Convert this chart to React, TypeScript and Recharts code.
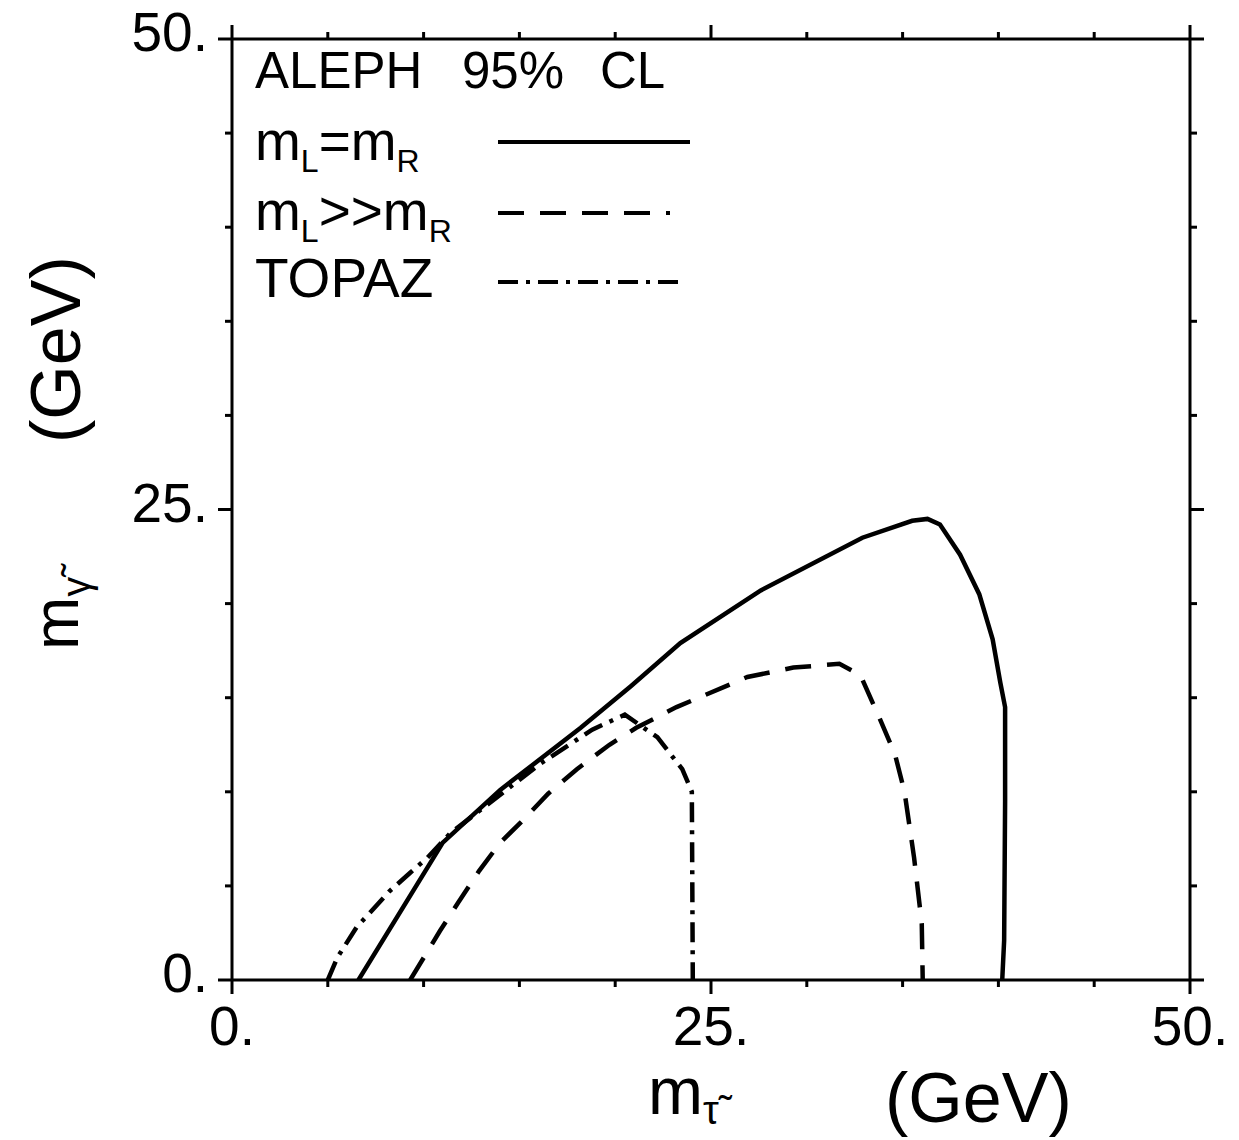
import { LineChart, Line, XAxis, YAxis, Legend } from "recharts";

const FONT = "'Liberation Sans', Arial, Helvetica, sans-serif";

// ALEPH 95% CL exclusion, m_L = m_R
const equalMassCurve = [
  { x: 6.6, y: 0 },
  { x: 11.0, y: 7.3 },
  { x: 14.0, y: 10.1 },
  { x: 18.2, y: 13.4 },
  { x: 20.8, y: 15.6 },
  { x: 23.4, y: 17.9 },
  { x: 27.6, y: 20.7 },
  { x: 32.9, y: 23.5 },
  { x: 35.5, y: 24.4 },
  { x: 36.3, y: 24.5 },
  { x: 36.95, y: 24.2 },
  { x: 38.0, y: 22.6 },
  { x: 39.0, y: 20.5 },
  { x: 39.7, y: 18.1 },
  { x: 40.1, y: 15.8 },
  { x: 40.35, y: 14.5 },
  { x: 40.35, y: 9.5 },
  { x: 40.3, y: 2.1 },
  { x: 40.2, y: 0 },
];

// ALEPH 95% CL exclusion, m_L >> m_R
const heavyLeftCurve = [
  { x: 9.3, y: 0 },
  { x: 10.85, y: 2.6 },
  { x: 11.8, y: 4.1 },
  { x: 12.9, y: 5.8 },
  { x: 14.0, y: 7.3 },
  { x: 15.1, y: 8.4 },
  { x: 16.5, y: 9.9 },
  { x: 18.0, y: 11.2 },
  { x: 19.7, y: 12.5 },
  { x: 21.1, y: 13.4 },
  { x: 23.2, y: 14.5 },
  { x: 26.9, y: 16.1 },
  { x: 29.3, y: 16.6 },
  { x: 31.7, y: 16.8 },
  { x: 32.8, y: 16.2 },
  { x: 33.8, y: 13.9 },
  { x: 34.6, y: 12.0 },
  { x: 35.1, y: 10.0 },
  { x: 35.6, y: 6.5 },
  { x: 36.0, y: 3.0 },
  { x: 36.05, y: 0 },
];

// TOPAZ limit
const topazCurve = [
  { x: 5.0, y: 0 },
  { x: 5.5, y: 1.2 },
  { x: 6.5, y: 2.8 },
  { x: 7.4, y: 3.8 },
  { x: 8.2, y: 4.7 },
  { x: 9.3, y: 5.7 },
  { x: 10.2, y: 6.5 },
  { x: 11.4, y: 7.8 },
  { x: 16.1, y: 11.5 },
  { x: 18.8, y: 13.3 },
  { x: 20.5, y: 14.1 },
  { x: 22.2, y: 12.9 },
  { x: 23.5, y: 11.2 },
  { x: 24.0, y: 10.0 },
  { x: 24.05, y: 0 },
];

const axisTicks = [0, 5, 10, 15, 20, 25, 30, 35, 40, 45, 50];
const majorTicks = [0, 25, 50];
const majorLabels = ["0.", "25.", "50."];

// legend labels, [text, isSubscript]
const legendLabels: [string, boolean][][] = [
  [["m", false], ["L", true], ["=m", false], ["R", true]],
  [["m", false], ["L", true], [">>m", false], ["R", true]],
  [["TOPAZ", false]],
];

const seriesStyles = [
  { dash: undefined as string | undefined, sampleEnd: 690 },
  { dash: "26 16", sampleEnd: 670 },
  { dash: "20 8 4 8", sampleEnd: 683 },
];

function makeTick(side: "bottom" | "top" | "left" | "right") {
  return (props: any) => {
    const { x, y, payload } = props;
    const i = majorTicks.indexOf(payload.value);
    const len = i >= 0 ? 14 : 7;
    let mark;
    let label = null;
    if (side === "bottom") {
      mark = <line x1={x} y1={y} x2={x} y2={y + len} />;
      if (i >= 0)
        label = (
          <text x={x} y={y + 65} textAnchor="middle" fontSize={55}>
            {majorLabels[i]}
          </text>
        );
    } else if (side === "top") {
      mark = <line x1={x} y1={y} x2={x} y2={y - len} />;
    } else if (side === "left") {
      mark = <line x1={x - len} y1={y} x2={x} y2={y} />;
      if (i >= 0)
        label = (
          <text x={x - 24} y={y + 12} textAnchor="end" fontSize={55}>
            {majorLabels[i]}
          </text>
        );
    } else {
      mark = <line x1={x} y1={y} x2={x + len} y2={y} />;
    }
    return (
      <g stroke="#000" strokeWidth={3} fontFamily={FONT}>
        {mark}
        {label && <g stroke="none" fill="#000">{label}</g>}
      </g>
    );
  };
}

function LegendBox() {
  const rowBase = [160, 230, 297];
  const lineY = [142, 213, 282];
  return (
    <svg width={1239} height={330} style={{ display: "block" }}>
      <g fontFamily={FONT} fill="#000">
        <text y={88} fontSize={51}>
          <tspan x={255}>ALEPH</tspan>
          <tspan x={462}>95%</tspan>
          <tspan x={600}>CL</tspan>
        </text>
        {legendLabels.map((parts, r) => (
          <text key={r} x={255} y={rowBase[r]} fontSize={55}>
            {parts.map(([t, sub], k) =>
              sub ? (
                <tspan key={k} fontSize={32} dy={12}>
                  {t}
                </tspan>
              ) : (
                <tspan key={k} dy={k > 0 ? -12 : 0}>
                  {t}
                </tspan>
              )
            )}
          </text>
        ))}
      </g>
      {seriesStyles.map((s, r) => (
        <line
          key={r}
          x1={498}
          x2={s.sampleEnd}
          y1={lineY[r]}
          y2={lineY[r]}
          stroke="#000"
          strokeWidth={4}
          strokeDasharray={s.dash}
        />
      ))}
    </svg>
  );
}

export default function App() {
  const curves = [equalMassCurve, heavyLeftCurve, topazCurve];
  const names = ["mL=mR", "mL>>mR", "TOPAZ"];
  return (
    <div style={{ position: "absolute", left: 0, top: 0, background: "#fff" }}>
      <LineChart
        width={1239}
        height={1140}
        margin={{ top: 29, right: 29, bottom: 100, left: 132 }}
      >
        <XAxis
          xAxisId="b"
          type="number"
          dataKey="x"
          domain={[0, 50]}
          ticks={axisTicks}
          allowDataOverflow
          height={60}
          axisLine={{ stroke: "#000", strokeWidth: 3 }}
          tickLine={false}
          tickSize={0}
          tickMargin={0}
          tick={makeTick("bottom")}
          interval={0}
        />
        <XAxis
          xAxisId="t"
          orientation="top"
          type="number"
          dataKey="x"
          domain={[0, 50]}
          ticks={axisTicks}
          allowDataOverflow
          height={10}
          axisLine={{ stroke: "#000", strokeWidth: 3 }}
          tickLine={false}
          tickSize={0}
          tickMargin={0}
          tick={makeTick("top")}
          interval={0}
        />
        <YAxis
          yAxisId="l"
          type="number"
          dataKey="y"
          domain={[0, 50]}
          ticks={axisTicks}
          allowDataOverflow
          width={100}
          axisLine={{ stroke: "#000", strokeWidth: 3 }}
          tickLine={false}
          tickSize={0}
          tickMargin={0}
          tick={makeTick("left")}
          interval={0}
        />
        <YAxis
          yAxisId="r"
          orientation="right"
          type="number"
          dataKey="y"
          domain={[0, 50]}
          ticks={axisTicks}
          allowDataOverflow
          width={20}
          axisLine={{ stroke: "#000", strokeWidth: 3 }}
          tickLine={false}
          tickSize={0}
          tickMargin={0}
          tick={makeTick("right")}
          interval={0}
        />
        {curves.map((c, i) => (
          <Line
            key={names[i]}
            xAxisId="b"
            yAxisId="l"
            data={c}
            dataKey="y"
            name={names[i]}
            type="linear"
            stroke="#000"
            strokeWidth={4.5}
            strokeDasharray={seriesStyles[i].dash}
            dot={false}
            activeDot={false}
            isAnimationActive={false}
          />
        ))}
        <Legend
          layout="horizontal"
          verticalAlign="middle"
          align="center"
          wrapperStyle={{ left: 0, top: 0, width: 1239, height: 330 }}
          content={() => <LegendBox />}
        />
        <g fontFamily={FONT} fill="#000">
          <text x={648} y={1114} fontSize={66}>
            m<tspan fontSize={40} dy={10}>τ̃</tspan>
          </text>
          <text x={885} y={1122} fontSize={70}>
            (GeV)
          </text>
          <text transform="translate(78,650) rotate(-90)" fontSize={64}>
            m<tspan fontSize={40} dy={12}>γ̃</tspan>
          </text>
          <text transform="translate(80,443) rotate(-90)" fontSize={70}>
            (GeV)
          </text>
        </g>
      </LineChart>
    </div>
  );
}
